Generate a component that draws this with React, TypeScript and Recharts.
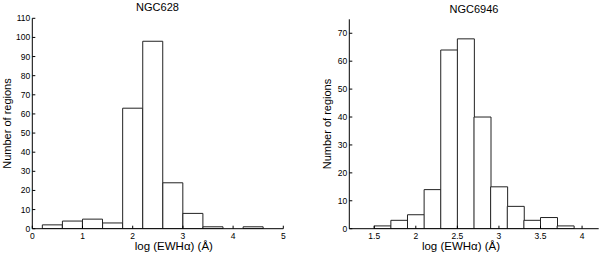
import React from "react";
import { BarChart, Bar, XAxis, YAxis, Label } from "recharts";

// NGC628 histogram (bin centres, bin width 0.4)
const leftBinCenters = [0.4, 0.8, 1.2, 1.6, 2.0, 2.4, 2.8, 3.2, 3.6, 4.0, 4.4];
const leftCounts = [2, 4, 5, 3, 63, 98, 24, 8, 1, 0, 1];
const leftXTicks = [0, 1, 2, 3, 4, 5];
const leftYTicks = [0, 10, 20, 30, 40, 50, 60, 70, 80, 90, 100, 110];

// NGC6946 histogram (bin centres, bin width 0.2)
const rightBinCenters = [1.6, 1.8, 2.0, 2.2, 2.4, 2.6, 2.8, 3.0, 3.2, 3.4, 3.6, 3.8];
const rightCounts = [1, 3, 5, 14, 64, 68, 40, 15, 8, 3, 4, 1];
const rightXTicks = [1.5, 2, 2.5, 3, 3.5, 4];
const rightYTicks = [0, 10, 20, 30, 40, 50, 60, 70];

const titles = ["NGC628", "NGC6946"];
const xLabel = "log (EWH\u03B1) (\u00C5)";
const yLabel = "Number of regions";

const FONT = "'Liberation Sans', Arial, Helvetica, sans-serif";
const tickStyle = { fontSize: 8.5, fill: "#000", fontFamily: FONT };

type HistProps = {
  centers: number[];
  counts: number[];
  xDomain: [number, number];
  yDomain: [number, number];
  xTicks: number[];
  yTicks: number[];
  margin: { top: number; right: number; bottom: number; left: number };
  yAxisWidth: number;
  xLabelDx: number;
  yLabelDx: number;
};

function Histogram(p: HistProps) {
  const data = p.centers.map((c, i) => ({ x: c, n: p.counts[i] }));
  const empty = () => "";
  return (
    <BarChart
      width={300}
      height={254}
      data={data}
      margin={p.margin}
      barCategoryGap={0}
      barGap={0}
    >
      <XAxis
        xAxisId={0}
        dataKey="x"
        type="number"
        domain={p.xDomain}
        ticks={p.xTicks}
        allowDataOverflow
        height={25.3}
        tickSize={-3}
        tickMargin={7}
        tick={tickStyle}
        stroke="#000"
        interval={0}
      >
        <Label
          value={xLabel}
          position="center"
          dx={p.xLabelDx}
          dy={5}
          style={{ fontSize: 11.5, fill: "#000", fontFamily: FONT }}
        />
      </XAxis>
      <XAxis
        xAxisId="top"
        orientation="top"
        type="number"
        domain={p.xDomain}
        ticks={p.xTicks}
        allowDataOverflow
        height={0}
        tickSize={-3}
        tickFormatter={empty}
        tick={tickStyle}
        stroke="#000"
        interval={0}
      />
      <YAxis
        yAxisId={0}
        type="number"
        domain={p.yDomain}
        ticks={p.yTicks}
        allowDataOverflow
        width={p.yAxisWidth}
        tickSize={-3}
        tickMargin={5}
        tick={tickStyle}
        stroke="#000"
        interval={0}
      >
        <Label
          value={yLabel}
          angle={-90}
          position="insideLeft"
          dx={p.yLabelDx}
          style={{ fontSize: 11, fill: "#000", fontFamily: FONT, textAnchor: "middle" }}
        />
      </YAxis>
      <YAxis
        yAxisId="right"
        orientation="right"
        type="number"
        domain={p.yDomain}
        ticks={p.yTicks}
        allowDataOverflow
        width={0}
        tickSize={-3}
        tickFormatter={empty}
        tick={tickStyle}
        stroke="#000"
        interval={0}
      />
      <Bar
        xAxisId={0}
        yAxisId={0}
        dataKey="n"
        fill="#fff"
        stroke="#222"
        strokeWidth={1}
        isAnimationActive={false}
      />
    </BarChart>
  );
}

export default function App() {
  return (
    <div
      style={{
        position: "absolute",
        left: 0,
        top: 0,
        width: 600,
        height: 254,
        background: "#fff",
        fontFamily: FONT,
      }}
    >
      <div style={{ position: "absolute", left: 0, top: 0 }}>
        <Histogram
          centers={leftBinCenters}
          counts={leftCounts}
          xDomain={[0, 5]}
          yDomain={[0, 110]}
          xTicks={leftXTicks}
          yTicks={leftYTicks}
          margin={{ top: 18.3, right: 16.7, bottom: 0, left: 0 }}
          yAxisWidth={32.3}
          xLabelDx={16}
          yLabelDx={2}
        />
      </div>
      <div style={{ position: "absolute", left: 300, top: 0 }}>
        <Histogram
          centers={rightBinCenters}
          counts={rightCounts}
          xDomain={[1.2, 4.2]}
          yDomain={[0, 75]}
          xTicks={rightXTicks}
          yTicks={rightYTicks}
          margin={{ top: 19.3, right: 1.3, bottom: 0, left: 0 }}
          yAxisWidth={49.3}
          xLabelDx={-13}
          yLabelDx={22}
        />
      </div>
      <div
        style={{
          position: "absolute",
          left: 32,
          width: 251,
          top: 1,
          textAlign: "center",
          fontSize: 11,
          lineHeight: "12px",
        }}
      >
        {titles[0]}
      </div>
      <div
        style={{
          position: "absolute",
          left: 349,
          width: 250,
          top: 3,
          textAlign: "center",
          fontSize: 11,
          lineHeight: "12px",
        }}
      >
        {titles[1]}
      </div>
    </div>
  );
}
